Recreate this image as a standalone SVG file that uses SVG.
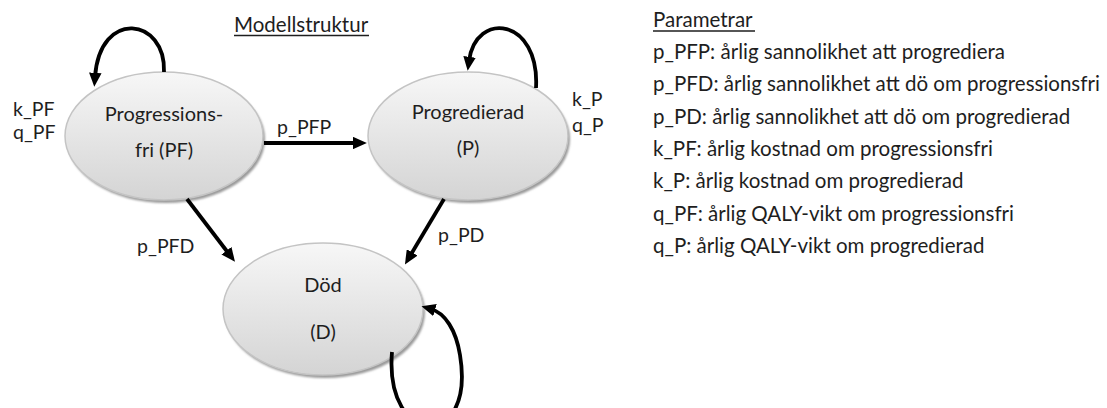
<svg xmlns="http://www.w3.org/2000/svg" width="1107" height="408" viewBox="0 0 1107 408">
<style>
text{font-family:Lato,"Open Sans",sans-serif;fill:#1e1e1e}
.n{font-size:20px;text-anchor:middle}
.l{font-size:19.5px}
.p{font-size:20.5px}
.e{stroke:#c4c4c4;stroke-width:1.5;fill:url(#g)}
.s{fill:#9a9a9a;filter:url(#b)}
.c{fill:none;stroke:#000;stroke-width:3.8}
.u{stroke:#1e1e1e;stroke-width:1.3}
</style>
<defs>
<linearGradient id="g" x1="0" y1="0" x2="0" y2="1">
<stop offset="0" stop-color="#f7f7f7"/>
<stop offset="1" stop-color="#d4d4d4"/>
</linearGradient>
<filter id="b" x="-10%" y="-10%" width="120%" height="120%"><feGaussianBlur stdDeviation="1.2"/></filter>
<marker id="a" markerWidth="3.7" markerHeight="3.3" refX="1.1" refY="1.65" orient="auto" markerUnits="strokeWidth" viewBox="0 0 3.7 3.3">
<path d="M0,0 L3.7,1.65 L0,3.3 Z" fill="#000"/>
</marker>
</defs>
<text x="234" y="32" style="font-size:20.5px">Modellstruktur</text>
<line class="u" x1="234" y1="35.5" x2="369" y2="35.5"/>
<g id="node-PF">
<ellipse class="s" cx="166" cy="139" rx="99" ry="64"/>
<ellipse class="e" cx="164" cy="136" rx="99" ry="64"/>
<text class="n" x="164" y="121">Progressions-</text>
<text class="n" x="164" y="157">fri (PF)</text>
</g>
<g id="node-P">
<ellipse class="s" cx="470" cy="139" rx="100" ry="64"/>
<ellipse class="e" cx="468" cy="136" rx="100" ry="64"/>
<text class="n" x="468" y="119">Progredierad</text>
<text class="n" x="468" y="155">(P)</text>
</g>
<g id="node-D">
<ellipse class="s" cx="325" cy="312" rx="100" ry="66"/>
<ellipse class="e" cx="323" cy="309" rx="100" ry="66"/>
<text class="n" x="323" y="292">Död</text>
<text class="n" x="323" y="339">(D)</text>
</g>
<g id="connectors">
<path class="c" marker-end="url(#a)" d="M264,143 L357,143"/>
<path class="c" marker-end="url(#a)" d="M187,199 L229,254"/>
<path class="c" marker-end="url(#a)" d="M444,199 L410,256"/>
<path class="c" marker-end="url(#a)" d="M164,72 C166,18 100,8 95,77"/>
<path class="c" marker-end="url(#a)" d="M536,88 C540,18 476,10 469,61"/>
<path class="c" marker-end="url(#a)" d="M392,352 C384,448 476,452 460,355 C456,330 445,313 431,309"/>
</g>
<g id="labels">
<text class="l" x="13" y="116">k_PF</text>
<text class="l" x="13" y="139">q_PF</text>
<text class="l" x="572" y="106">k_P</text>
<text class="l" x="572" y="132">q_P</text>
<text class="l" x="277" y="134">p_PFP</text>
<text class="l" x="137" y="253">p_PFD</text>
<text class="l" x="438" y="242">p_PD</text>
</g>
<g id="params">
<text class="p" x="653" y="27">Parametrar</text>
<line class="u" x1="653" y1="31" x2="755" y2="31"/>
<text class="p" x="653" y="59">p_PFP: årlig sannolikhet att progrediera</text>
<text class="p" x="653" y="91">p_PFD: årlig sannolikhet att dö om progressionsfri</text>
<text class="p" x="653" y="124">p_PD: årlig sannolikhet att dö om progredierad</text>
<text class="p" x="653" y="156">k_PF: årlig kostnad om progressionsfri</text>
<text class="p" x="653" y="188">k_P: årlig kostnad om progredierad</text>
<text class="p" x="653" y="221">q_PF: årlig QALY-vikt om progressionsfri</text>
<text class="p" x="653" y="253">q_P: årlig QALY-vikt om progredierad</text>
</g>
</svg>
